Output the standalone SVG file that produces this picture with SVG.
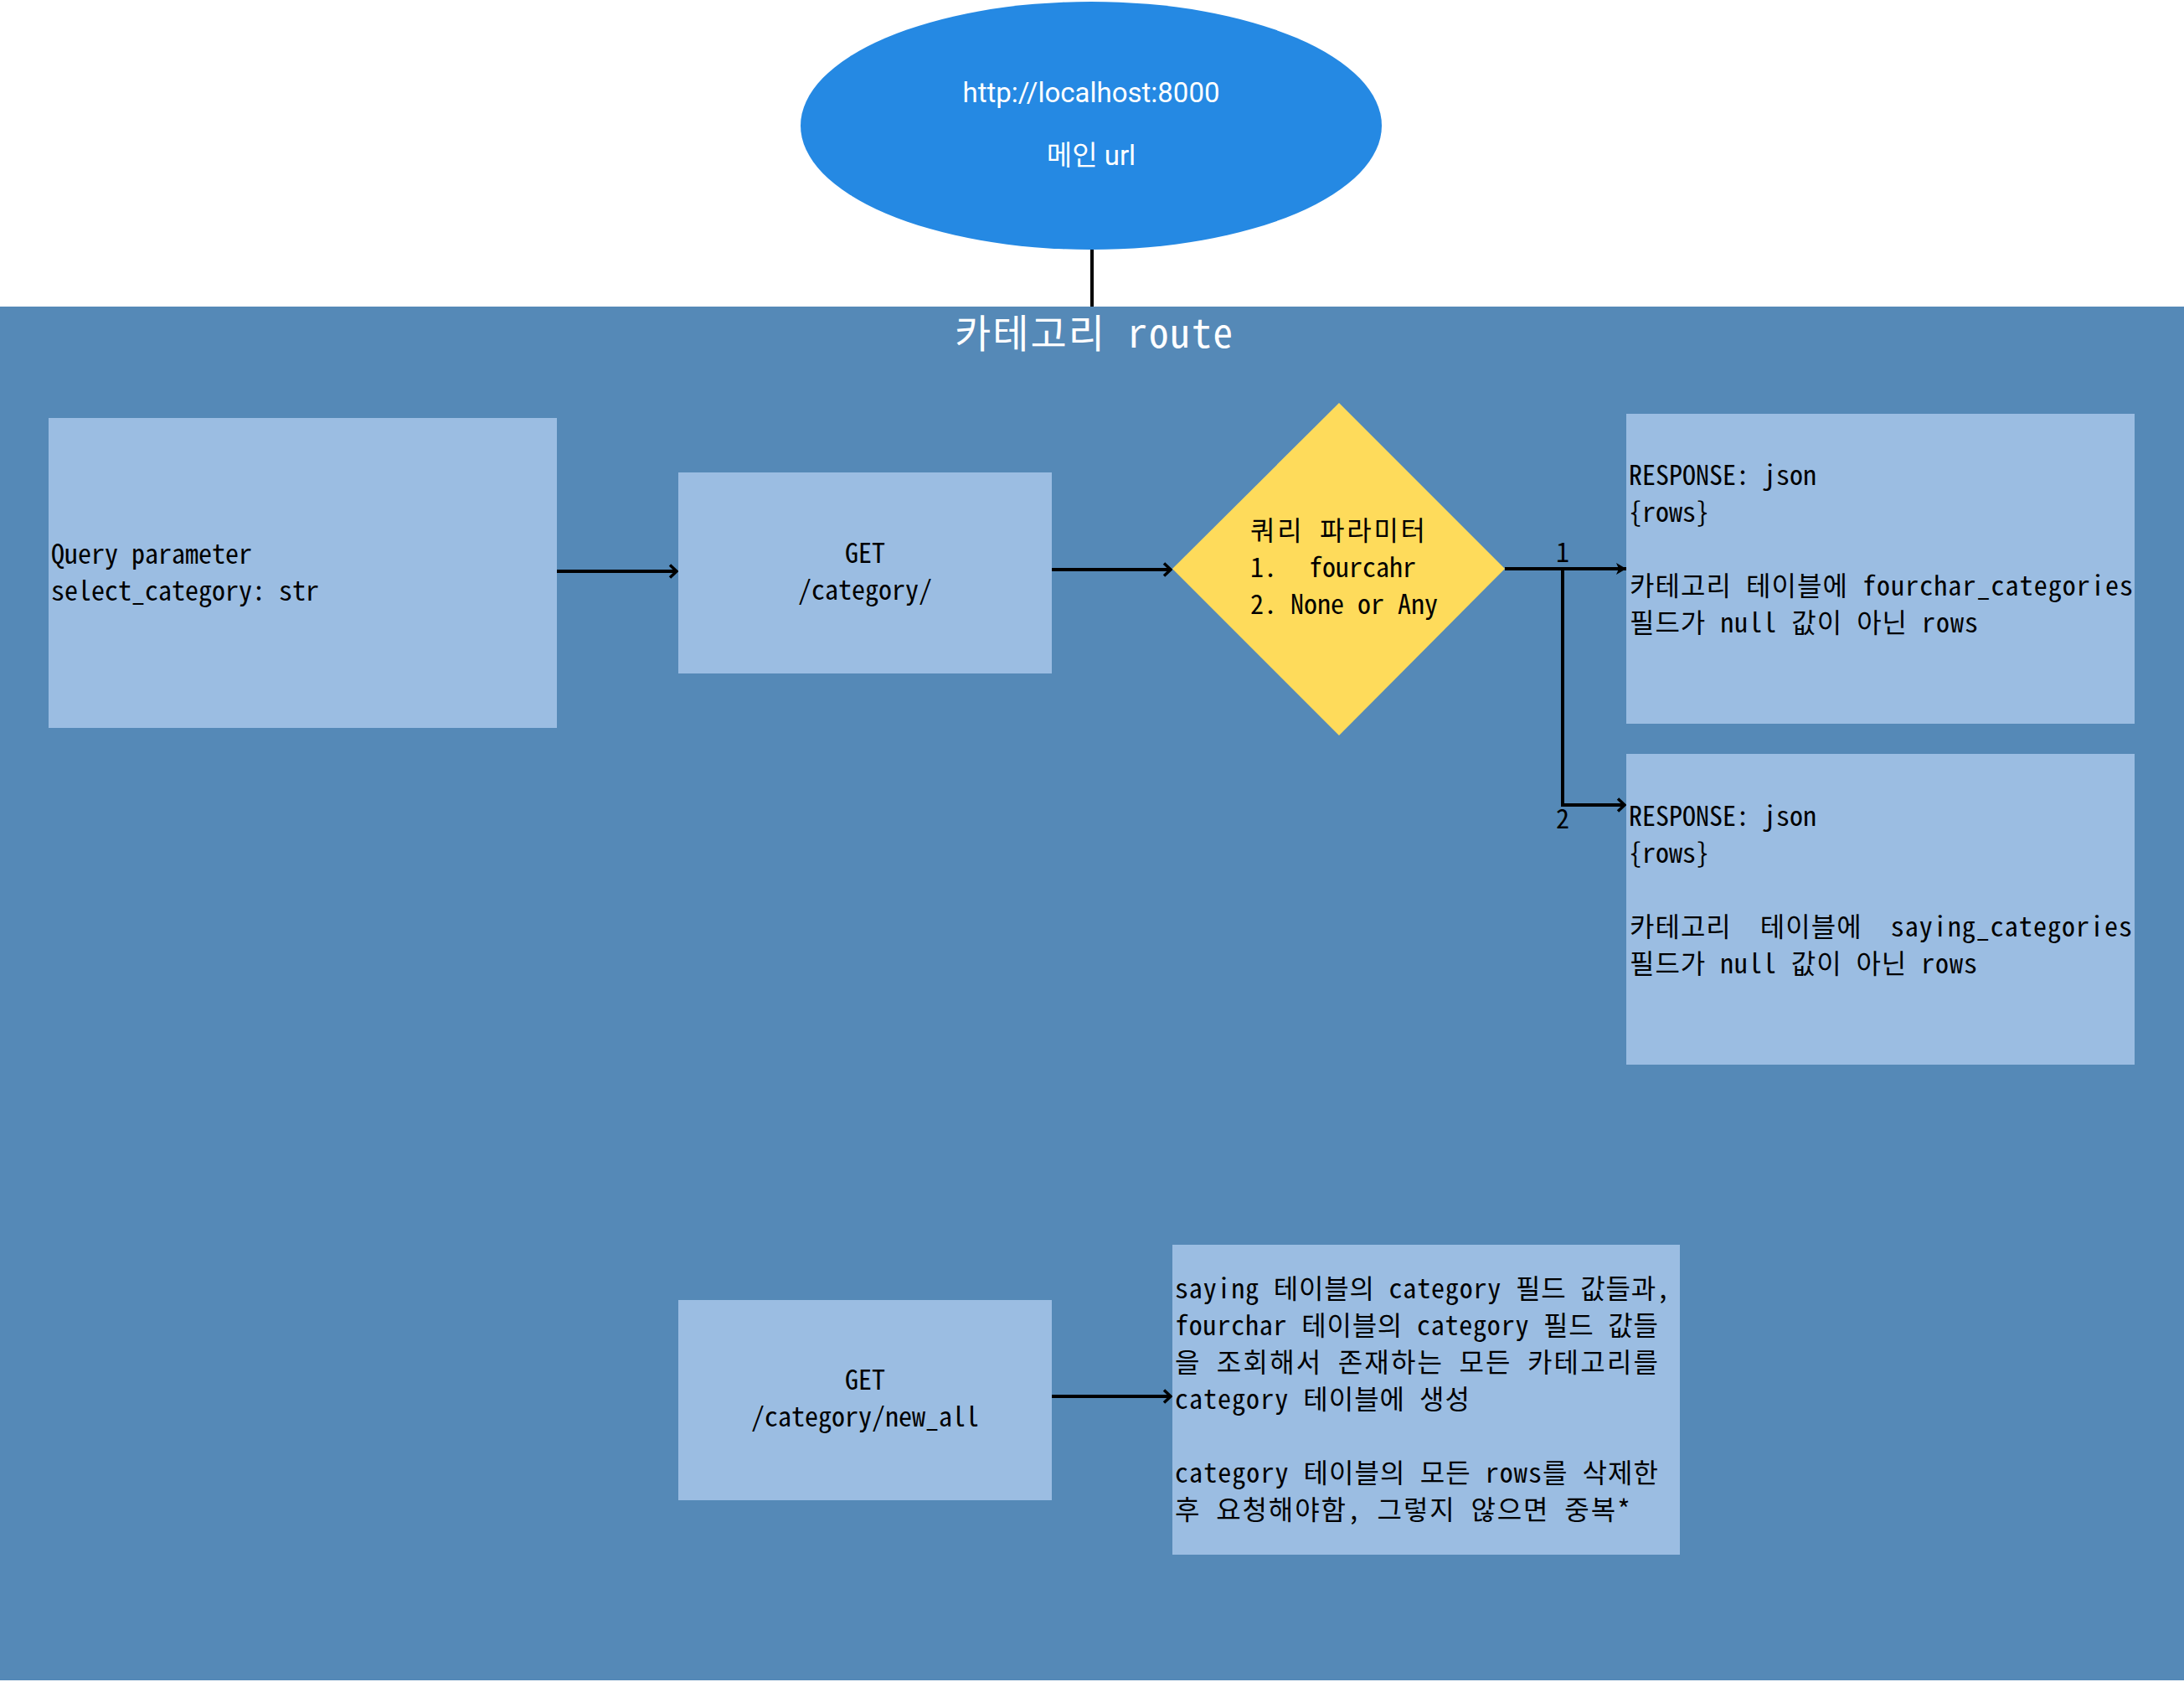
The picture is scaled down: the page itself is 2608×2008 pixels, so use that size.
<svg xmlns="http://www.w3.org/2000/svg" width="2608" height="2008" viewBox="0 0 2608 2008">
<style>
text{white-space:pre}
.m{font-family:"Noto Sans Mono CJK KR","Noto Sans Mono CJK SC","DejaVu Sans Mono","Noto Sans CJK KR",monospace;font-size:32px;fill:#000}
.w{font-family:Roboto,"Noto Sans CJK KR",sans-serif;font-size:33px;fill:#fff}
.box{fill:#9bbde2}
.c{stroke:#000;stroke-width:4;fill:none}
</style>
<defs>
<marker id="arr" markerWidth="12" markerHeight="18" refX="10" refY="9" orient="auto" markerUnits="userSpaceOnUse">
<polyline points="2,1.5 10,9 2,16.5" fill="none" stroke="#000" stroke-width="3.5"/>
</marker>
<marker id="blk" markerWidth="14" markerHeight="16" refX="12" refY="8" orient="auto" markerUnits="userSpaceOnUse">
<path d="M0,1 L12,8 L0,15 L3,8 Z" fill="#000"/>
</marker>
</defs>
<rect x="0" y="0" width="2608" height="2008" fill="#fff"/>
<g id="band">
<rect x="0" y="366" width="2608" height="1640" fill="#5589b7"/>
<text class="m" x="1140" y="415" textLength="332" lengthAdjust="spacing" style="font-size:47px;fill:#fff">카테고리 route</text>
</g>
<g id="connectors">
<line class="c" x1="1304" y1="298" x2="1304" y2="366"/>
<line class="c" x1="665" y1="682" x2="808" y2="682" marker-end="url(#arr)"/>
<line class="c" x1="1256" y1="680" x2="1398" y2="680" marker-end="url(#arr)"/>
<line class="c" x1="1797" y1="679" x2="1942" y2="679" marker-end="url(#blk)"/>
<polyline class="c" points="1866,679 1866,961 1940,961" marker-end="url(#arr)"/>
<line class="c" x1="1256" y1="1667" x2="1398" y2="1667" marker-end="url(#arr)"/>
<text class="m" x="1866" y="671" text-anchor="middle">1</text>
<text class="m" x="1866" y="989" text-anchor="middle">2</text>
</g>
<g id="main-url">
<ellipse cx="1303" cy="150" rx="347" ry="148" fill="#2589e3"/>
<text class="w" x="1303" y="122" text-anchor="middle">http://localhost:8000</text>
<text class="w" x="1303" y="197" text-anchor="middle">메인 url</text>
</g>
<g id="query-param">
<rect class="box" x="58" y="499" width="607" height="370"/>
<text class="m" x="61" y="673">Query parameter</text>
<text class="m" x="61" y="717">select_category: str</text>
</g>
<g id="get-category">
<rect class="box" x="810" y="564" width="446" height="240"/>
<text class="m" x="1033" y="672" text-anchor="middle">GET</text>
<text class="m" x="1033" y="716" text-anchor="middle">/category/</text>
</g>
<g id="decision">
<polygon points="1599,481 1797,679 1599,878 1400,679" fill="#fedb5b"/>
<text class="m" x="1493" y="645" textLength="209" lengthAdjust="spacing">쿼리 파라미터</text>
<text class="m" x="1493" y="689">1.</text>
<text class="m" x="1563" y="689">fourcahr</text>
<text class="m" x="1493" y="733">2. None or Any</text>
</g>
<g id="response-1">
<rect class="box" x="1942" y="494" width="607" height="370"/>
<text class="m" x="1945" y="579">RESPONSE: json</text>
<text class="m" x="1945" y="623">{rows}</text>
<text class="m" x="1946" y="711" textLength="601" lengthAdjust="spacing">카테고리 테이블에 fourchar_categories</text>
<text class="m" x="1946" y="755" textLength="416" lengthAdjust="spacing">필드가 null 값이 아닌 rows</text>
</g>
<g id="response-2">
<rect class="box" x="1942" y="900" width="607" height="371"/>
<text class="m" x="1945" y="986">RESPONSE: json</text>
<text class="m" x="1945" y="1030">{rows}</text>
<text class="m" x="1946" y="1118" textLength="600" lengthAdjust="spacing">카테고리  테이블에  saying_categories</text>
<text class="m" x="1946" y="1162" textLength="415" lengthAdjust="spacing">필드가 null 값이 아닌 rows</text>
</g>
<g id="get-new-all">
<rect class="box" x="810" y="1552" width="446" height="239"/>
<text class="m" x="1033" y="1659" text-anchor="middle">GET</text>
<text class="m" x="1033" y="1703" text-anchor="middle">/category/new_all</text>
</g>
<g id="new-all-desc">
<rect class="box" x="1400" y="1486" width="606" height="370"/>
<text class="m" x="1403" y="1550" textLength="591" lengthAdjust="spacing">saying 테이블의 category 필드 값들과,</text>
<text class="m" x="1403" y="1594" textLength="577" lengthAdjust="spacing">fourchar 테이블의 category 필드 값들</text>
<text class="m" x="1403" y="1638" textLength="577" lengthAdjust="spacing">을 조회해서 존재하는 모든 카테고리를</text>
<text class="m" x="1403" y="1682" textLength="352" lengthAdjust="spacing">category 테이블에 생성</text>
<text class="m" x="1403" y="1770" textLength="577" lengthAdjust="spacing">category 테이블의 모든 rows를 삭제한</text>
<text class="m" x="1403" y="1814" textLength="544" lengthAdjust="spacing">후 요청해야함, 그렇지 않으면 중복*</text>
</g>
</svg>
